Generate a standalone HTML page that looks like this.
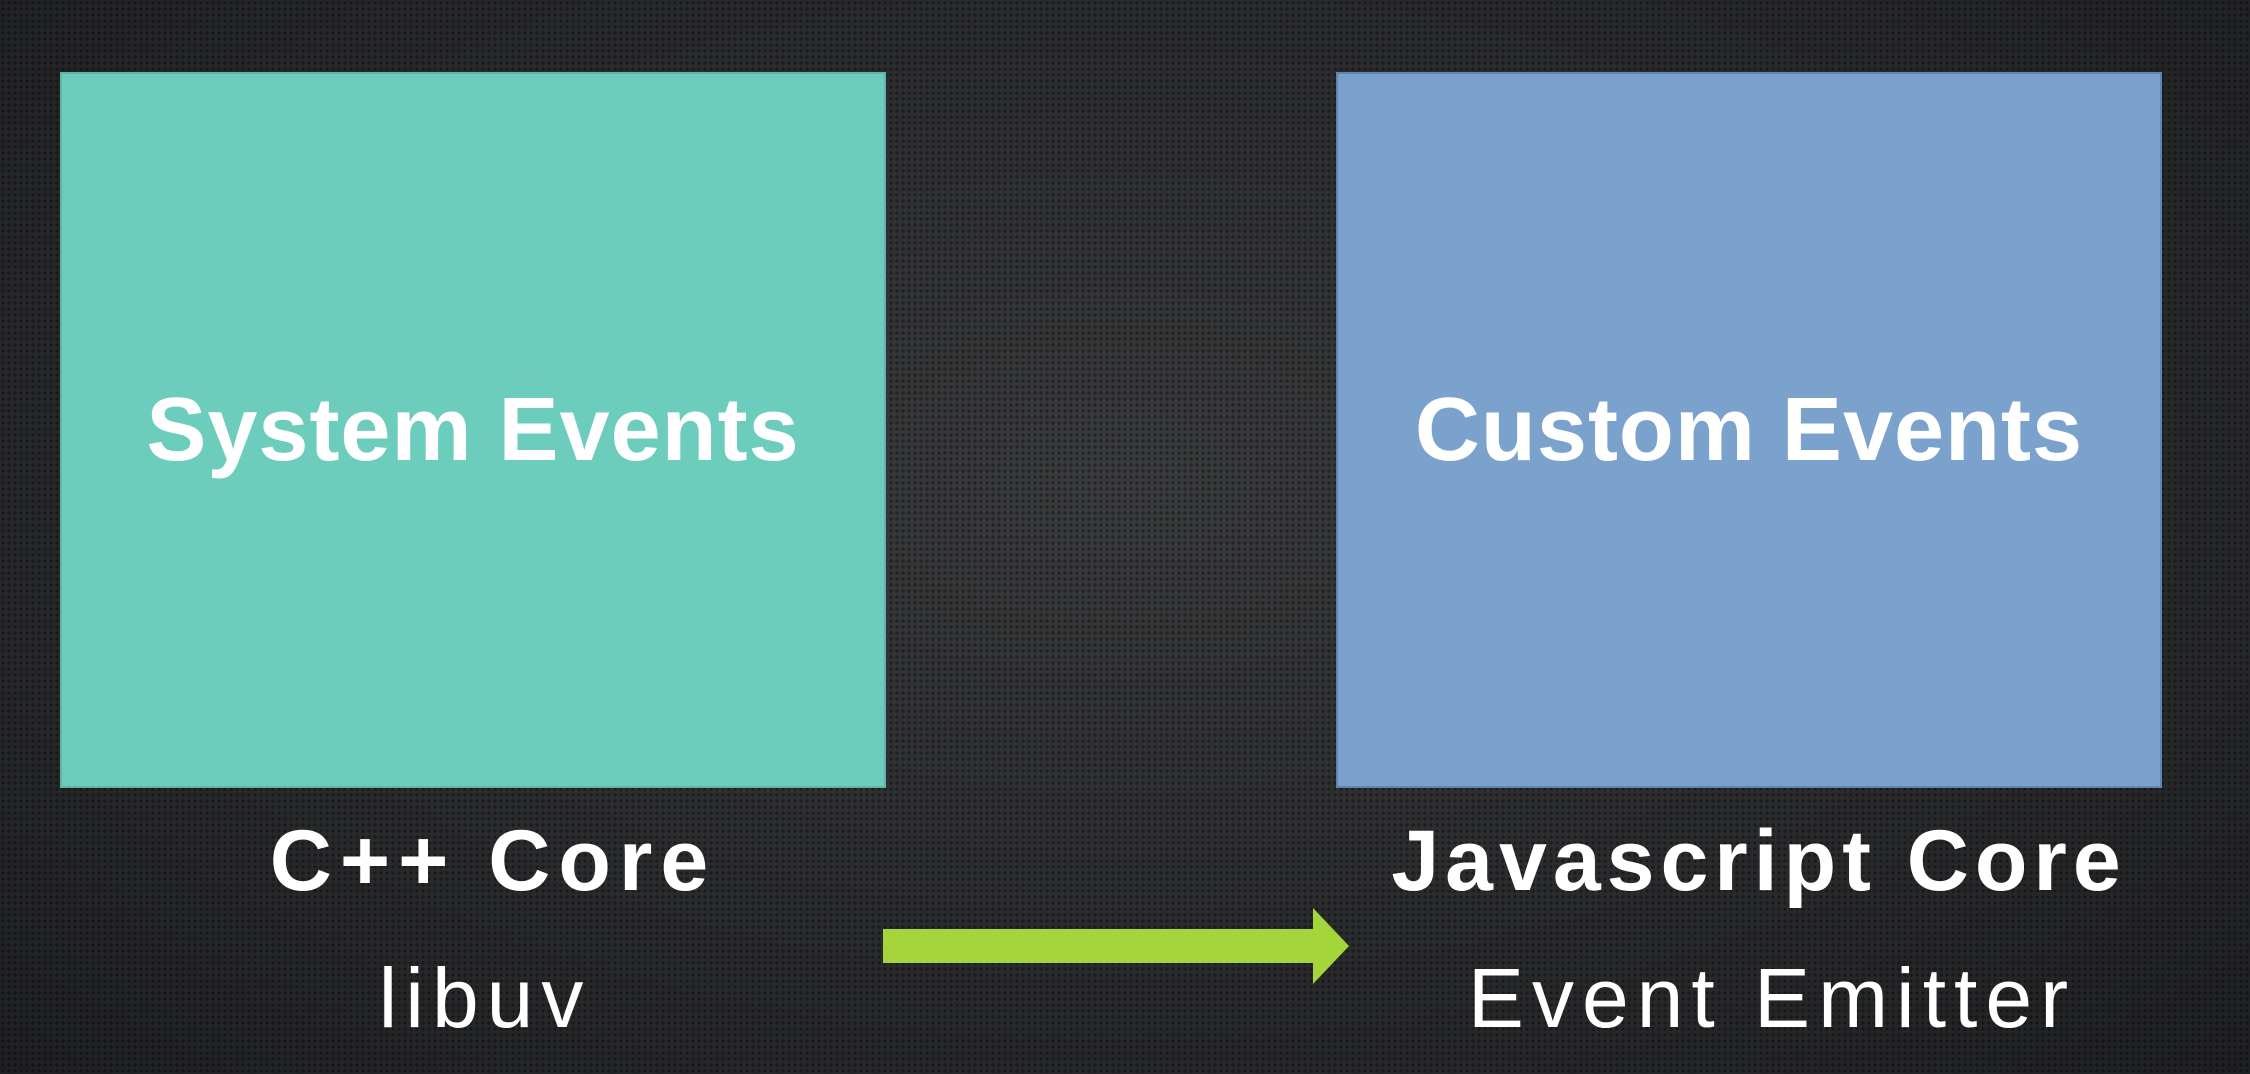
<!DOCTYPE html>
<html><head><meta charset="utf-8"><style>
html,body{margin:0;padding:0}
body{width:2250px;height:1074px;position:relative;overflow:hidden;
background:radial-gradient(ellipse at 50% 45%,#3a3b3d 0%,#2c2d2f 50%,#1f2022 100%);
font-family:"Liberation Sans",sans-serif;color:#fff}
.tex{position:absolute;inset:0;background-image:radial-gradient(circle,rgba(0,0,0,.35) 1.5px,transparent 2px);background-size:6px 6px;}
.box{position:absolute;top:72px;width:822px;height:712px;display:flex;align-items:center;justify-content:center;font-weight:bold;font-size:90px;letter-spacing:1px}
.t{position:absolute;text-align:center;transform:translateX(-50%);white-space:nowrap}
</style></head><body>
<div class="tex"></div>
<div class="box" style="left:60px;background:#6dcdbd;border:2px solid #5fb5a7;">System Events</div>
<div class="box" style="left:1336px;background:#7aa2cc;border:2px solid #5f86b3;">Custom Events</div>
<div class="t" style="left:489px;top:812px;font-size:86px;font-weight:bold;letter-spacing:8px;padding-left:8px">C++ Core</div>
<div class="t" style="left:481px;top:950px;font-size:84px;letter-spacing:8px;padding-left:8px">libuv</div>
<div class="t" style="left:1756px;top:812px;font-size:86px;font-weight:bold;letter-spacing:6px;padding-left:6px">Javascript Core</div>
<div class="t" style="left:1768px;top:950px;font-size:84px;letter-spacing:8px;padding-left:8px">Event Emitter</div>
<svg style="position:absolute;left:0;top:0" width="2250" height="1074">
<polygon points="883,929 1313,929 1313,908 1349,946 1313,984 1313,963 883,963" fill="#a4d53a"/>
</svg>
</body></html>
